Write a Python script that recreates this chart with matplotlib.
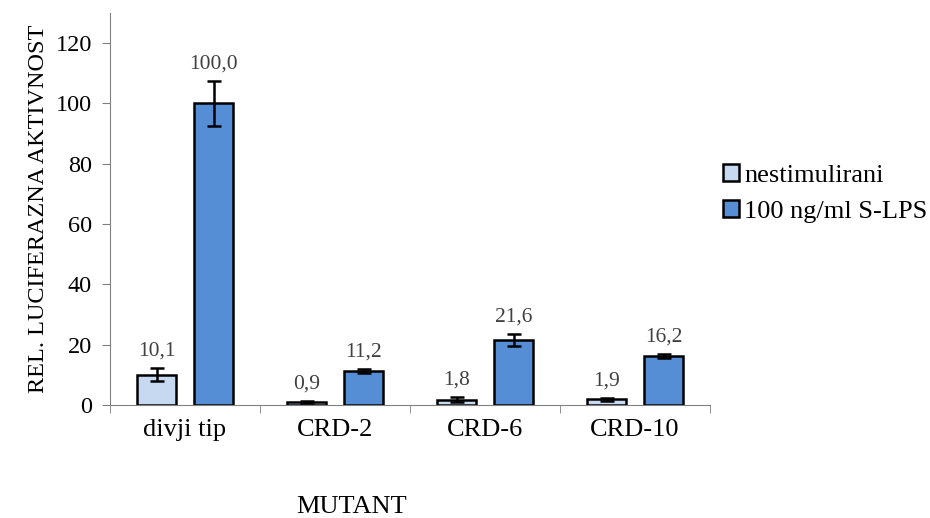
import numpy as np
import matplotlib
matplotlib.use("Agg")
import matplotlib.pyplot as plt

plt.rcParams['font.family'] = ['Liberation Serif', 'DejaVu Serif']

categories = ["divji tip", "CRD-2", "CRD-6", "CRD-10"]
series_names = ["nestimulirani", "100 ng/ml S-LPS"]
unstim = [10.1, 0.9, 1.8, 1.9]
unstim_err = [2.2, 0.3, 0.95, 0.5]
lps = [100.0, 11.2, 21.6, 16.2]
lps_err = [7.5, 0.7, 1.9, 0.7]

fig = plt.figure(figsize=(9.3, 5.18), dpi=100)
ax = fig.add_axes([110 / 930, 1 - 405 / 518, 600 / 930, 392 / 518])

x = np.arange(len(categories))
w = 0.26
off = 0.19
ekw = dict(elinewidth=1.8, capthick=1.8, ecolor="black")
ax.bar(x - off, unstim, w, yerr=unstim_err, capsize=5, color="#c6d9f1",
       edgecolor="black", linewidth=1.8, label=series_names[0], error_kw=ekw)
ax.bar(x + off, lps, w, yerr=lps_err, capsize=5, color="#558ed5",
       edgecolor="black", linewidth=1.8, label=series_names[1], error_kw=ekw)

for xi, v, e in zip(x - off, unstim, unstim_err):
    ax.text(xi, v + e + 2.5, f"{v:.1f}".replace(".", ","), ha="center",
            va="bottom", fontsize=15.5, color="#404040")
for xi, v, e in zip(x + off, lps, lps_err):
    ax.text(xi, v + e + 2.5, f"{v:.1f}".replace(".", ","), ha="center",
            va="bottom", fontsize=15.5, color="#404040")

ax.set_xlim(-0.5, len(categories) - 0.5)
ax.set_ylim(0, 130)
ax.set_yticks(np.arange(0, 121, 20))
ax.set_xticks(x)
ax.set_xticklabels(categories, fontsize=19)
ax.set_xticks(np.arange(-0.5, len(categories)), minor=True)
ax.tick_params(axis="x", which="major", length=0, pad=10)
ax.tick_params(axis="x", which="minor", length=6, color="#808080")
ax.tick_params(axis="y", labelsize=17.5, length=6, color="#808080", pad=7)
for s in ["top", "right"]:
    ax.spines[s].set_visible(False)
for s in ["left", "bottom"]:
    ax.spines[s].set_color("#808080")

ax.set_ylabel("REL. LUCIFERAZNA AKTIVNOST", fontsize=17.5, labelpad=5)
fig.text(352 / 930, 0.0, "MUTANT", ha="center", va="bottom", fontsize=19)

ax.legend(loc="center left", bbox_to_anchor=(1.022, 0.54), frameon=False,
          fontsize=19, handlelength=0.6, handleheight=0.6, handletextpad=0.2,
          labelspacing=0.5, borderaxespad=0, borderpad=0)

fig.savefig("out.png", dpi=100)
